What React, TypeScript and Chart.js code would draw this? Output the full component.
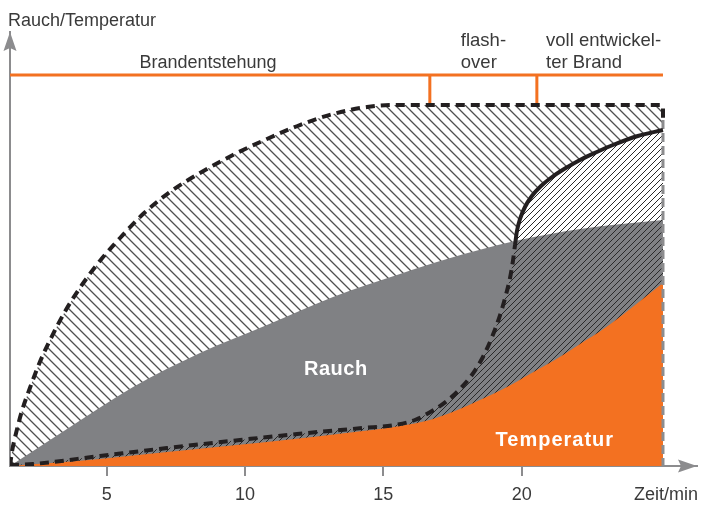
import React, { useEffect, useRef } from "react";
import { Chart, registerables } from "chart.js";

Chart.register(...registerables);

// ---- data (x in minutes, y in relative units 0..100) ----
const xTicks = [5, 10, 15, 20];

// outer dashed envelope (smoke, hatched)
const envelopeX = [1.5, 1.57, 1.72, 1.93, 2.22, 2.58, 3.02, 3.52, 4.10, 4.75, 5.48, 6.31, 7.28, 8.37, 9.56, 10.79, 11.98, 13.18, 14.41, 15.35, 25.0, 25.11, 25.11];
const envelopeY = [0, 3.23, 7.6, 12.67, 17.97, 23.96, 29.95, 35.94, 41.71, 47.24, 52.53, 58.06, 63.13, 67.51, 71.66, 75.35, 78.57, 81.11, 82.72, 83.18, 83.18, 82.95, 80.18];

// Rauch (grey area)
const rauchX = [1.5, 3.56, 5.95, 8.37, 10.79, 13.18, 15.6, 17.3, 19.76, 22.11, 25.11];
const rauchY = [0, 8.53, 18.2, 26.04, 32.49, 38.94, 44.24, 47.7, 51.84, 54.61, 56.68];

// Temperatur (orange area)
const tempX = [1.5, 4.75, 7.18, 10.79, 14.26, 15.6, 16.68, 17.59, 18.49, 19.4, 20.3, 21.2, 22.11, 23.01, 23.92, 25.11];
const tempY = [0, 1.61, 3.23, 5.53, 8.06, 9.22, 10.6, 12.67, 15.21, 17.97, 21.2, 24.42, 28.11, 31.8, 36.18, 42.17];

// flash-over temperature curve (dashed, then solid)
const flashX = [1.5, 2.33, 4.75, 7.18, 9.82, 11.88, 14.26, 15.42, 16.14, 16.76, 17.3, 17.77, 18.2, 18.6, 18.93, 19.22, 19.43, 19.58, 19.69, 19.76, 19.83, 19.94, 20.12, 20.37, 20.7, 21.1, 21.6, 22.11, 22.72, 23.3, 24.2, 25.11];
const flashY = [0.23, 0.46, 2.3, 4.15, 5.99, 7.37, 8.76, 9.45, 10.6, 12.67, 14.98, 17.74, 20.97, 25.12, 29.72, 34.79, 39.4, 43.32, 47.47, 50.92, 54.15, 56.91, 59.68, 62.21, 64.52, 66.59, 68.66, 70.51, 72.35, 73.96, 76.04, 77.42];
const flashSolidFrom = 19;

// right border of the smoke area
const edgeX = [25.11, 25.11];
const edgeY = [79.7, 0];

// phase bar
const phaseBarX = [1.5, 25.11];
const phaseBarY = [90.1, 90.1];
const phaseMarksX = [16.68, 20.55];
const phaseMarkY = [90.1, 83.2];

const X_MIN = 1.5;
const X_MAX = 26.34;

// ---- styles ----
const AXIS = "#8c8c8e";
const TEXT = "#3a3a3a";
const GRAY = "#808184";
const ORANGE = "#f37121";
const DARK = "#231f20";
const FONT = "'Liberation Sans', Arial, Helvetica, sans-serif";

function pts(xs: number[], ys: number[]) {
  return xs.map((x, i) => ({ x, y: ys[i] }));
}

function makeHatch(spacing: number, dir: "back" | "fwd", color: string, width: number, bg: string | null) {
  const c = document.createElement("canvas");
  c.width = spacing;
  c.height = spacing;
  const g = c.getContext("2d")!;
  if (bg) {
    g.fillStyle = bg;
    g.fillRect(0, 0, spacing, spacing);
  }
  g.strokeStyle = color;
  g.lineWidth = width;
  g.beginPath();
  const d = spacing;
  if (dir === "back") {
    g.moveTo(-1, -1); g.lineTo(d + 1, d + 1);
    g.moveTo(-1, d - 1); g.lineTo(1, d + 1);
    g.moveTo(d - 1, -1); g.lineTo(d + 1, 1);
  } else {
    g.moveTo(-1, d + 1); g.lineTo(d + 1, -1);
    g.moveTo(-1, 1); g.lineTo(1, -1);
    g.moveTo(d - 1, d + 1); g.lineTo(d + 1, d - 1);
  }
  g.stroke();
  return g.createPattern(c, "repeat")!;
}

const overlay = {
  id: "overlay",
  afterDraw(chart: any) {
    const { ctx, chartArea: a, scales } = chart;
    const x = scales.x;
    const y = scales.y;
    ctx.save();
    // axis arrows
    ctx.fillStyle = AXIS;
    ctx.beginPath();
    ctx.moveTo(a.left, a.top);
    ctx.lineTo(a.left - 6.5, a.top + 19);
    ctx.lineTo(a.left, a.top + 16);
    ctx.lineTo(a.left + 6.5, a.top + 19);
    ctx.closePath();
    ctx.fill();
    ctx.beginPath();
    ctx.moveTo(a.right, a.bottom);
    ctx.lineTo(a.right - 19, a.bottom - 6.5);
    ctx.lineTo(a.right - 16, a.bottom);
    ctx.lineTo(a.right - 19, a.bottom + 6.5);
    ctx.closePath();
    ctx.fill();

    // light texts
    ctx.fillStyle = TEXT;
    ctx.font = `18px ${FONT}`;
    ctx.textBaseline = "alphabetic";
    ctx.textAlign = "left";
    ctx.fillText("Rauch/Temperatur", a.left - 2, 26);
    ctx.textAlign = "right";
    ctx.fillText("Zeit/min", 698, 500);
    ctx.textAlign = "center";
    ctx.fillText("Brandentstehung", x.getPixelForValue(8.66), 68);
    ctx.textAlign = "left";
    ctx.font = `18.5px ${FONT}`;
    ctx.fillText("flash-", x.getPixelForValue(17.8), 46);
    ctx.fillText("over", x.getPixelForValue(17.8), 68);
    ctx.fillText("voll entwickel-", x.getPixelForValue(20.88), 46);
    ctx.fillText("ter Brand", x.getPixelForValue(20.88), 68);

    // bold white labels
    ctx.fillStyle = "#ffffff";
    ctx.font = `bold 20px ${FONT}`;
    try { (ctx as any).letterSpacing = "0.5px"; } catch (e) {}
    ctx.textAlign = "center";
    ctx.fillText("Rauch", x.getPixelForValue(13.28), y.getPixelForValue(21));
    try { (ctx as any).letterSpacing = "1px"; } catch (e) {}
    ctx.fillText("Temperatur", x.getPixelForValue(21.2), y.getPixelForValue(4.6));
    try { (ctx as any).letterSpacing = "0px"; } catch (e) {}
    ctx.restore();
  },
};

export default function App() {
  const ref = useRef<HTMLCanvasElement | null>(null);

  useEffect(() => {
    document.body.style.margin = "0";
    const canvas = ref.current!;
    Chart.defaults.font.family = FONT;
    const sparse = makeHatch(10, "back", "#505050", 1.3, "#ffffff");
    const dense = makeHatch(6, "fwd", "#2a2a2a", 1, null);

    const base = {
      pointRadius: 0,
      pointHoverRadius: 0,
      cubicInterpolationMode: "monotone" as const,
    };
    const straight = {
      pointRadius: 0,
      pointHoverRadius: 0,
      tension: 0,
      fill: false,
    };

    const chart = new Chart(canvas, {
      type: "line",
      data: {
        datasets: [
          // strokes (top)
          {
            ...base,
            data: pts(envelopeX, envelopeY),
            borderColor: DARK,
            borderWidth: 4,
            borderDash: [9, 6],
            fill: false,
            order: 1,
          },
          {
            ...base,
            data: pts(flashX, flashY),
            borderColor: DARK,
            borderWidth: 4,
            fill: false,
            segment: {
              borderDash: (c: any) => (c.p0DataIndex >= flashSolidFrom ? [] : [9, 6]),
            },
            order: 2,
          },
          {
            ...straight,
            data: pts(edgeX, edgeY),
            borderColor: AXIS,
            borderWidth: 3,
            borderDash: [9, 4],
            order: 3,
          },
          {
            ...straight,
            data: pts(phaseBarX, phaseBarY),
            borderColor: ORANGE,
            borderWidth: 3,
            order: 3,
          },
          {
            ...straight,
            data: pts([phaseMarksX[0], phaseMarksX[0]], phaseMarkY),
            borderColor: ORANGE,
            borderWidth: 3,
            order: 3,
          },
          {
            ...straight,
            data: pts([phaseMarksX[1], phaseMarksX[1]], phaseMarkY),
            borderColor: ORANGE,
            borderWidth: 3,
            order: 3,
          },
          // fills (bottom)
          {
            ...base,
            data: pts(tempX, tempY),
            borderWidth: 0,
            backgroundColor: ORANGE,
            fill: "origin",
            order: 6,
          },
          {
            ...base,
            data: pts(flashX, flashY),
            borderWidth: 0,
            backgroundColor: dense,
            fill: "origin",
            order: 7,
          },
          {
            ...base,
            data: pts(rauchX, rauchY),
            borderWidth: 0,
            backgroundColor: GRAY,
            fill: "origin",
            order: 8,
          },
          {
            ...base,
            data: pts(flashX, flashY),
            borderWidth: 0,
            backgroundColor: "#ffffff",
            fill: "origin",
            order: 9,
          },
          {
            ...base,
            data: pts(envelopeX, envelopeY),
            borderWidth: 0,
            backgroundColor: sparse,
            fill: "origin",
            order: 10,
          },
        ] as any,
      },
      options: {
        animation: false,
        responsive: false,
        events: [],
        layout: { padding: { top: 32, left: 10, right: 5, bottom: 0 } },
        plugins: {
          legend: { display: false },
          tooltip: { enabled: false },
          title: { display: false },
        },
        scales: {
          x: {
            type: "linear",
            min: X_MIN,
            max: X_MAX,
            afterBuildTicks: (s: any) => {
              s.ticks = xTicks.map((v) => ({ value: v }));
            },
            afterFit: (s: any) => {
              s.height = 41;
            },
            grid: {
              display: true,
              drawOnChartArea: false,
              drawTicks: true,
              tickLength: 10,
              color: AXIS,
              lineWidth: 2,
            },
            border: { display: true, color: AXIS, width: 2 },
            ticks: {
              color: TEXT,
              font: { size: 18, family: FONT },
              padding: 8,
              maxRotation: 0,
              autoSkip: false,
            },
          },
          y: {
            type: "linear",
            min: 0,
            max: 100,
            ticks: { display: false },
            grid: { display: false, drawTicks: false },
            border: { display: true, color: AXIS, width: 2 },
          },
        },
      },
      plugins: [overlay],
    } as any);

    return () => chart.destroy();
  }, []);

  return (
    <div style={{ position: "fixed", left: 0, top: 0, width: 702, height: 507, background: "#fff" }}>
      <canvas ref={ref} width={702} height={507} style={{ width: 702, height: 507, display: "block" }} />
    </div>
  );
}
